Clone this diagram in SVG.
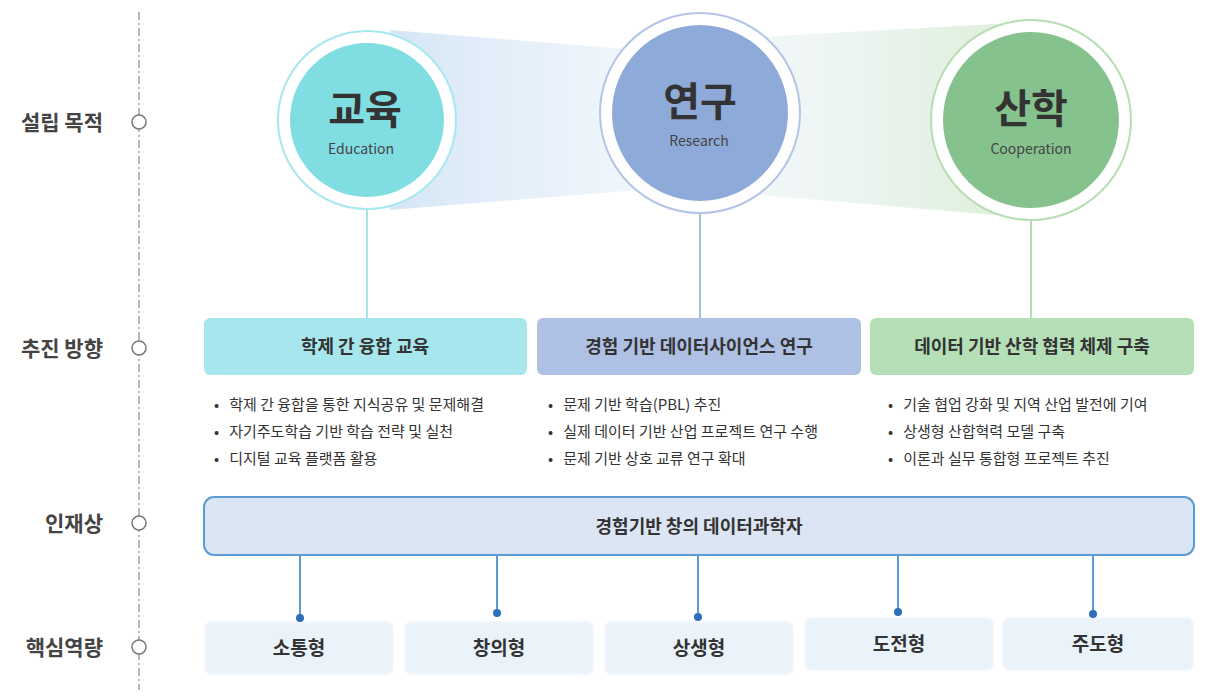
<svg xmlns="http://www.w3.org/2000/svg" width="1205" height="697" viewBox="0 0 1205 697">
<style>
text{font-family:"Noto Sans CJK KR","Noto Sans",sans-serif;fill:#333}
.lab{font-size:21px;font-weight:bold;text-anchor:end;fill:#444}
.ax{fill:#fff;stroke:#777;stroke-width:1.5}
.h{font-size:18px;font-weight:bold;text-anchor:middle}
.b{font-size:15px;fill:#333;white-space:pre}
.big{font-size:40px;font-weight:bold;text-anchor:middle}
.sub{font-size:14px;text-anchor:middle;fill:#444}
.cb{fill:#eaf2fa;stroke:#f3f7fb;stroke-width:2}
.cap{font-size:19px;font-weight:bold;text-anchor:middle}
</style>
<defs>
<linearGradient id="g1" x1="0" x2="1"><stop offset="0" stop-color="#d6e6f6"/><stop offset="1" stop-color="#eef5fb" stop-opacity="0.6"/></linearGradient>
<linearGradient id="g2" x1="0" x2="1"><stop offset="0" stop-color="#e8f0fa" stop-opacity="0.4"/><stop offset="1" stop-color="#dceed6"/></linearGradient>
</defs>
<rect width="1205" height="697" fill="#fff"/>
<g id="axis">
<line x1="139" y1="12" x2="139" y2="690" stroke="#888" stroke-width="1.2" stroke-dasharray="8 3 2 3"/>
<circle class="ax" cx="139" cy="122" r="7"/><circle class="ax" cx="139" cy="348" r="7"/><circle class="ax" cx="139" cy="523" r="7"/><circle class="ax" cx="139" cy="647" r="7"/>
<text class="lab" x="103" y="130">설립 목적</text>
<text class="lab" x="103" y="356">추진 방향</text>
<text class="lab" x="103" y="531">인재상</text>
<text class="lab" x="103" y="655">핵심역량</text>
</g>
<g id="bands">
<polygon points="390,30 700,55 700,185 390,210" fill="url(#g1)"/>
<polygon points="700,40 1031,22 1031,218 700,190" fill="url(#g2)"/>
</g>
<g id="edu">
<circle cx="367" cy="120" r="89" fill="#fff" stroke="#a6e8ee" stroke-width="2"/>
<circle cx="367" cy="120" r="77" fill="#80dde2"/>
<text class="big" x="365" y="124">교육</text><text class="sub" x="361" y="154">Education</text>
</g>
<g id="res">
<circle cx="700" cy="113" r="100" fill="#fff" stroke="#b3c4e6" stroke-width="2"/>
<circle cx="700" cy="113" r="88" fill="#8eaad8"/>
<text class="big" x="700" y="116">연구</text><text class="sub" x="699" y="146">Research</text>
</g>
<g id="coop">
<circle cx="1031" cy="120" r="100" fill="#fff" stroke="#b7ddb4" stroke-width="2"/>
<circle cx="1031" cy="120" r="88" fill="#85c28e"/>
<text class="big" x="1031" y="123">산학</text><text class="sub" x="1031" y="154">Cooperation</text>
</g>
<g id="dir1">
<rect x="204" y="318" width="323" height="57" rx="6" fill="#a7e6ec"/>
<text class="h" x="365" y="353">학제 간 융합 교육</text>
<text class="b" x="214" y="410">•   학제 간 융합을 통한 지식공유 및 문제해결</text>
<text class="b" x="214" y="437">•   자기주도학습 기반 학습 전략 및 실천</text>
<text class="b" x="214" y="464">•   디지털 교육 플랫폼 활용</text>
</g>
<g id="dir2">
<rect x="537" y="318" width="324" height="57" rx="6" fill="#aec0e4"/>
<text class="h" x="699" y="353">경험 기반 데이터사이언스 연구</text>
<text class="b" x="548" y="410">•   문제 기반 학습(PBL) 추진</text>
<text class="b" x="548" y="437">•   실제 데이터 기반 산업 프로젝트 연구 수행</text>
<text class="b" x="548" y="464">•   문제 기반 상호 교류 연구 확대</text>
</g>
<g id="dir3">
<rect x="870" y="318" width="324" height="57" rx="6" fill="#b5dfb7"/>
<text class="h" x="1032" y="353">데이터 기반 산학 협력 체제 구축</text>
<text class="b" x="888" y="410">•   기술 협업 강화 및 지역 산업 발전에 기여</text>
<text class="b" x="888" y="437">•   상생형 산합혁력 모델 구축</text>
<text class="b" x="888" y="464">•   이론과 실무 통합형 프로젝트 추진</text>
</g>
<g id="talent">
<rect x="204" y="497" width="990" height="58" rx="10" fill="#dbe5f3" stroke="#5b9bd5" stroke-width="2"/>
<text class="h" x="699" y="533">경험기반 창의 데이터과학자</text>
</g>
<g id="c1"><rect class="cb" x="205" y="622" width="188" height="52" rx="6"/><text class="cap" x="299" y="655">소통형</text></g>
<g id="c2"><rect class="cb" x="405" y="622" width="188" height="52" rx="6"/><text class="cap" x="499" y="655">창의형</text></g>
<g id="c3"><rect class="cb" x="605" y="622" width="188" height="52" rx="6"/><text class="cap" x="699" y="655">상생형</text></g>
<g id="c4"><rect class="cb" x="805" y="618" width="188" height="52" rx="6"/><text class="cap" x="899" y="651">도전형</text></g>
<g id="c5"><rect class="cb" x="1003" y="618" width="190" height="52" rx="6"/><text class="cap" x="1098" y="651">주도형</text></g>
<g id="connectors" stroke-width="2">
<line x1="367" y1="210" x2="367" y2="318" stroke="#a6e4ea"/>
<line x1="700" y1="214" x2="700" y2="318" stroke="#a9bde4"/>
<line x1="1031" y1="221" x2="1031" y2="318" stroke="#b4dcb2"/>
<g stroke="#5b9bd5" fill="#2d6fb8">
<line x1="300" y1="556" x2="300" y2="617"/><circle cx="300" cy="618" r="4" stroke="none"/>
<line x1="497" y1="556" x2="497" y2="612"/><circle cx="497" cy="613" r="4" stroke="none"/>
<line x1="698" y1="556" x2="698" y2="616"/><circle cx="698" cy="617" r="4" stroke="none"/>
<line x1="898" y1="556" x2="898" y2="611"/><circle cx="898" cy="612" r="4" stroke="none"/>
<line x1="1093" y1="556" x2="1093" y2="613"/><circle cx="1093" cy="614" r="4" stroke="none"/>
</g>
</g>
</svg>
